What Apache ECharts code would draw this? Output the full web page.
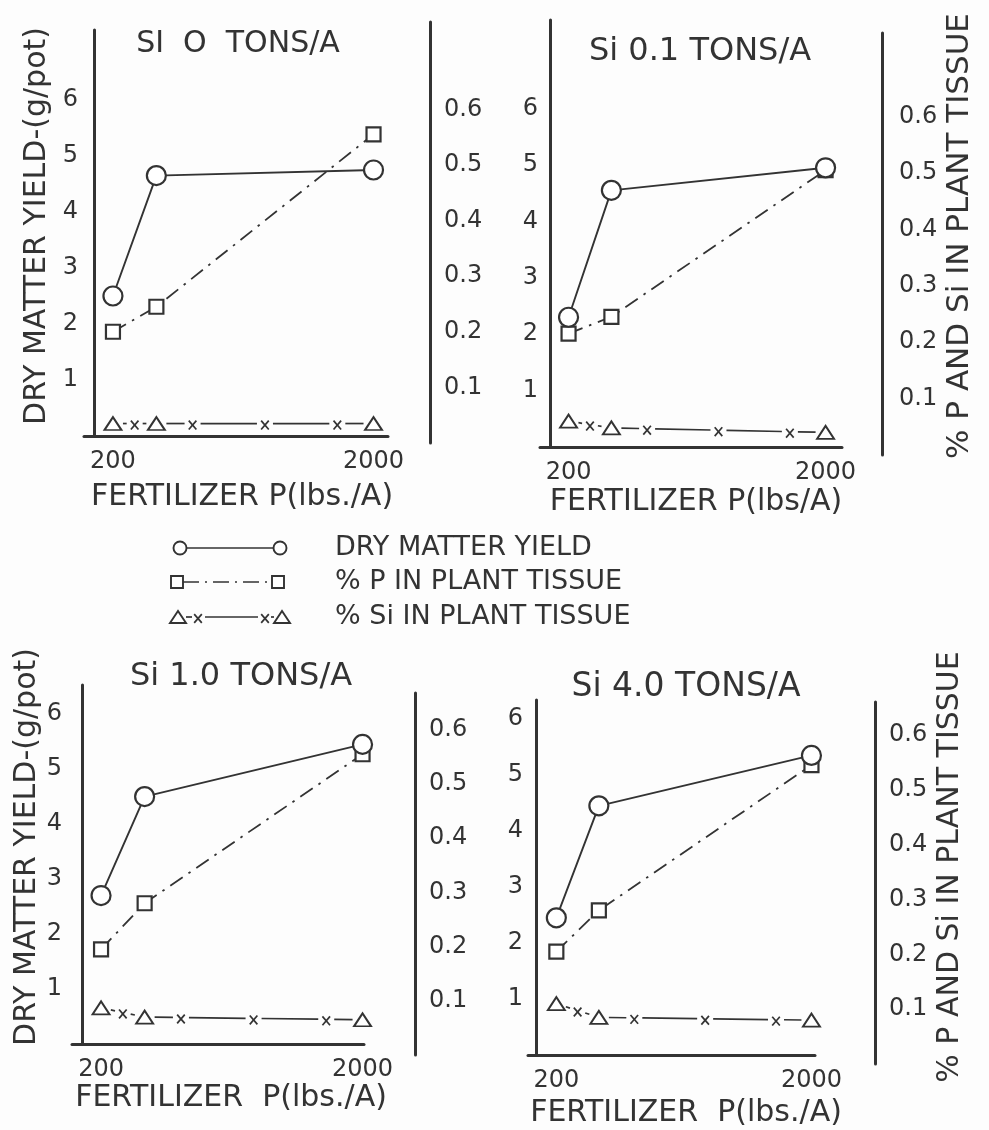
<!DOCTYPE html>
<html>
<head>
<meta charset="utf-8">
<script src="https://cdn.jsdelivr.net/npm/echarts@6/dist/echarts.min.js"></script>
<style>
  html, body { margin: 0; padding: 0; background: #fdfdfd; }
  #chart { width: 989px; height: 1130px; }
</style>
</head>
<body>
<div id="chart"></div>
<script>
// ---- data -------------------------------------------------------------
// fertilizer P rates, lbs./A
const pRates = [200, 500, 2000];
const xTickLabels = [200, 2000];
const yieldTickLabels = [1, 2, 3, 4, 5, 6];
const pctTickLabels = [0.1, 0.2, 0.3, 0.4, 0.5, 0.6];

const panelTitles = ['SI  O  TONS/A', 'Si 0.1 TONS/A', 'Si 1.0 TONS/A', 'Si 4.0 TONS/A'];
const xAxisNames = ['FERTILIZER P(lbs./A)', 'FERTILIZER P(lbs/A)', 'FERTILIZER  P(lbs./A)', 'FERTILIZER  P(lbs./A)'];
const yieldAxisName = 'DRY MATTER YIELD-(g/pot)';
const pctAxisName = '% P AND Si IN PLANT TISSUE';
const legendNames = ['DRY MATTER YIELD', '% P IN PLANT TISSUE', '% Si IN PLANT TISSUE'];

// dry matter yield, g/pot
const yieldSi0 = [2.5, 4.65, 4.75];
const yieldSi01 = [2.3, 4.55, 4.95];
const yieldSi10 = [2.7, 4.5, 5.45];
const yieldSi40 = [2.45, 4.45, 5.35];

// % P in plant tissue
const pSi0 = [0.20, 0.245, 0.555];
const pSi01 = [0.215, 0.245, 0.505];
const pSi10 = [0.195, 0.28, 0.555];
const pSi40 = [0.205, 0.28, 0.545];

// % Si in plant tissue
const siSi0 = [0.035, 0.035, 0.035];
const siSi01 = [0.06, 0.048, 0.04];
const siSi10 = [0.087, 0.07, 0.065];
const siSi40 = [0.11, 0.085, 0.08];

// ---- layout -----------------------------------------------------------
const INK = '#333';
const FONT = 'DejaVu Sans';

// each panel: a yield grid (left axis) and a percent grid (detached right axis)
const panels = [
  { yld: yieldSi0,  p: pSi0,  si: siSi0,  left: 84,  width: 304, aTop: 30,  aH: 406, aMax: 7.25, bTop: 22,  bH: 421, bMax: 0.757, xMax: 2100, yOff: -10, rOff: 42, lMargin: 16, rMargin: 14 },
  { yld: yieldSi01, p: pSi01, si: siSi01, left: 540, width: 302, aTop: 20,  aH: 427, aMax: 7.57, bTop: 33,  bH: 422, bMax: 0.748, xMax: 2115, yOff: -10, rOff: 40, lMargin: 12, rMargin: 17 },
  { yld: yieldSi10, p: pSi10, si: siSi10, left: 72,  width: 292, aTop: 685, aH: 359, aMax: 6.53, bTop: 693, bH: 362, bMax: 0.668, xMax: 2010, yOff: -10, rOff: 51, lMargin: 20, rMargin: 14 },
  { yld: yieldSi40, p: pSi40, si: siSi40, left: 528, width: 287, aTop: 700, aH: 355, aMax: 6.34, bTop: 702, bH: 362, bMax: 0.66,  xMax: 2025, yOff: -8,  rOff: 60, lMargin: 13, rMargin: 14 }
];

const pairs = vals => pRates.map((x, i) => [x, vals[i]]);
const segments = vals => pRates.slice(1).map((x, i) => [pRates[i], vals[i], x, vals[i + 1]]);
const near = (list, v) => list.some(t => Math.abs(t - v) < 1e-6);

// connecting line for % Si: plain strokes broken by small "x" crosses
function siLineItem(params, api) {
  const a = api.coord([api.value(0), api.value(1)]);
  const b = api.coord([api.value(2), api.value(3)]);
  const dx = b[0] - a[0], dy = b[1] - a[1];
  const len = Math.hypot(dx, dy);
  const ux = dx / len, uy = dy / len;
  const n = Math.max(1, Math.round(len / 70));
  const endGap = 10, crossGap = 8, hw = 3.8, hh = 4.4;
  const at = t => [a[0] + ux * t, a[1] + uy * t];
  const children = [];
  const stroke = { stroke: INK, lineWidth: 1.7 };
  const piece = (t0, t1) => {
    if (t1 - t0 < 1) return;
    const p0 = at(t0), p1 = at(t1);
    children.push({ type: 'line', shape: { x1: p0[0], y1: p0[1], x2: p1[0], y2: p1[1] }, style: stroke });
  };
  let start = endGap;
  for (let k = 0; k < n; k++) {
    const t = (k + 0.5) / n * len;
    piece(start, t - crossGap);
    const c = at(t);
    const cy = c[1] + 1.5;
    children.push({ type: 'line', shape: { x1: c[0] - hw, y1: cy - hh, x2: c[0] + hw, y2: cy + hh }, style: stroke });
    children.push({ type: 'line', shape: { x1: c[0] - hw, y1: cy + hh, x2: c[0] + hw, y2: cy - hh }, style: stroke });
    start = t + crossGap;
  }
  piece(start, len - endGap);
  return { type: 'group', children };
}

const grid = [], xAxis = [], yAxis = [], series = [];
const axisLine = { show: true, onZero: false, lineStyle: { color: INK, width: 3 } };
const labelFont = { color: INK, fontFamily: FONT, fontSize: 24 };

panels.forEach((pn, i) => {
  const a = 2 * i, b = 2 * i + 1;
  grid.push({ left: pn.left, width: pn.width, top: pn.aTop, height: pn.aH, outerBoundsMode: 'none' });
  grid.push({ left: pn.left, width: pn.width, top: pn.bTop, height: pn.bH, outerBoundsMode: 'none' });

  xAxis.push({
    type: 'value', gridIndex: a, min: 0, max: pn.xMax, interval: 200,
    axisLine, axisTick: { show: false }, splitLine: { show: false },
    axisLabel: Object.assign({ margin: 14,
      formatter: v => xTickLabels.includes(v) ? String(v) : '' }, labelFont)
  });
  xAxis.push({ type: 'value', gridIndex: b, min: 0, max: pn.xMax, show: false });

  yAxis.push({
    type: 'value', gridIndex: a, position: 'left', offset: pn.yOff,
    min: 0, max: pn.aMax, interval: 1,
    axisLine, axisTick: { show: false }, splitLine: { show: false },
    axisLabel: Object.assign({ margin: pn.lMargin,
      formatter: v => near(yieldTickLabels, v) ? String(Math.round(v)) : '' }, labelFont)
  });
  yAxis.push({
    type: 'value', gridIndex: b, position: 'right', offset: pn.rOff,
    min: 0, max: pn.bMax, interval: 0.1,
    axisLine, axisTick: { show: false }, splitLine: { show: false },
    axisLabel: Object.assign({ margin: pn.rMargin,
      formatter: v => near(pctTickLabels, v) ? v.toFixed(1) : '' }, labelFont)
  });

  series.push({
    type: 'line', xAxisIndex: a, yAxisIndex: a, data: pairs(pn.yld),
    symbol: 'circle', symbolSize: 19, z: 4,
    itemStyle: { color: '#fff', borderColor: INK, borderWidth: 2.2 },
    lineStyle: { color: INK, width: 1.9 }
  });
  series.push({
    type: 'line', xAxisIndex: b, yAxisIndex: b, data: pairs(pn.p),
    symbol: 'rect', symbolSize: 14, z: 3,
    itemStyle: { color: '#fff', borderColor: INK, borderWidth: 2.2 },
    lineStyle: { color: INK, width: 1.8, type: [15, 7, 2.5, 7] }
  });
  series.push({
    type: 'custom', xAxisIndex: b, yAxisIndex: b, data: segments(pn.si),
    encode: { x: [0, 2], y: [1, 3] }, renderItem: siLineItem, z: 2
  });
  series.push({
    type: 'line', xAxisIndex: b, yAxisIndex: b, data: pairs(pn.si),
    symbol: 'triangle', symbolSize: [17, 13], z: 3,
    itemStyle: { color: '#fff', borderColor: INK, borderWidth: 1.9 },
    lineStyle: { width: 0, opacity: 0 }
  });
});

// ---- text and legend drawn as graphic elements -------------------------
const txt = (text, x, y, size, extra) => Object.assign({
  type: 'text', x, y, silent: true,
  style: { text, x: 0, y: 0, font: size + 'px "' + FONT + '"', fill: INK,
    align: 'center', verticalAlign: 'middle', textAlign: 'center', textVerticalAlign: 'middle' }
}, extra || {});

const titlePos = [[238, 44, 30], [700, 52, 32], [241, 677, 32], [686, 687, 33]];
const xNamePos = [[242, 497], [696, 502], [231, 1098], [686, 1113]];
const graphics = [];
panelTitles.forEach((t, i) => graphics.push(txt(t, titlePos[i][0], titlePos[i][1], titlePos[i][2])));
xAxisNames.forEach((t, i) => graphics.push(txt(t, xNamePos[i][0], xNamePos[i][1], 30)));
graphics.push(txt(yieldAxisName, 37, 226, 30, { rotation: Math.PI / 2 }));
graphics.push(txt(yieldAxisName, 27, 847, 30, { rotation: Math.PI / 2 }));
graphics.push(txt(pctAxisName, 960, 236, 31, { rotation: Math.PI / 2 }));
graphics.push(txt(pctAxisName, 950, 867, 30, { rotation: Math.PI / 2 }));

// legend
const lg = { stroke: INK, lineWidth: 1.7 };
const lgFill = { fill: '#fff', stroke: INK, lineWidth: 1.9 };
const seg = (x1, y1, x2, y2, dash) => ({ type: 'line', silent: true, shape: { x1, y1, x2, y2 },
  style: Object.assign({}, lg, dash ? { lineDash: dash } : {}) });
const cross = (cx, cy) => [seg(cx - 3.8, cy - 2.9, cx + 3.8, cy + 5.9), seg(cx - 3.8, cy + 5.9, cx + 3.8, cy - 2.9)];
const tri = (cx, cy) => ({ type: 'polygon', silent: true,
  shape: { points: [[cx - 8, cy + 6], [cx + 8, cy + 6], [cx, cy - 6]] }, style: lgFill });
const rows = [548, 582, 617];
graphics.push(seg(186, rows[0], 274, rows[0]));
graphics.push({ type: 'circle', silent: true, shape: { cx: 180, cy: rows[0], r: 6.5 }, style: lgFill });
graphics.push({ type: 'circle', silent: true, shape: { cx: 280, cy: rows[0], r: 6.5 }, style: lgFill });
graphics.push(seg(183, rows[1], 272, rows[1], [16, 6, 2, 6]));
graphics.push({ type: 'rect', silent: true, shape: { x: 171, y: rows[1] - 6, width: 12, height: 12 }, style: lgFill });
graphics.push({ type: 'rect', silent: true, shape: { x: 272, y: rows[1] - 6, width: 12, height: 12 }, style: lgFill });
graphics.push(seg(186, rows[2], 192, rows[2]));
graphics.push(...cross(198, rows[2]));
graphics.push(seg(205, rows[2], 258, rows[2]));
graphics.push(...cross(265, rows[2]));
graphics.push(seg(271, rows[2], 274, rows[2]));
graphics.push(tri(178, rows[2]));
graphics.push(tri(282, rows[2]));
legendNames.forEach((t, i) => graphics.push({
  type: 'text', x: 335, y: rows[i], silent: true,
  style: { text: t, x: 0, y: 0, font: '27px "' + FONT + '"', fill: INK,
    align: 'left', verticalAlign: 'middle', textAlign: 'left', textVerticalAlign: 'middle' }
}));

const chart = echarts.init(document.getElementById('chart'), null, { renderer: 'canvas' });
chart.setOption({
  backgroundColor: '#fdfdfd',
  animation: false,
  grid, xAxis, yAxis, series,
  graphic: { elements: graphics }
});
</script>
</body>
</html>
